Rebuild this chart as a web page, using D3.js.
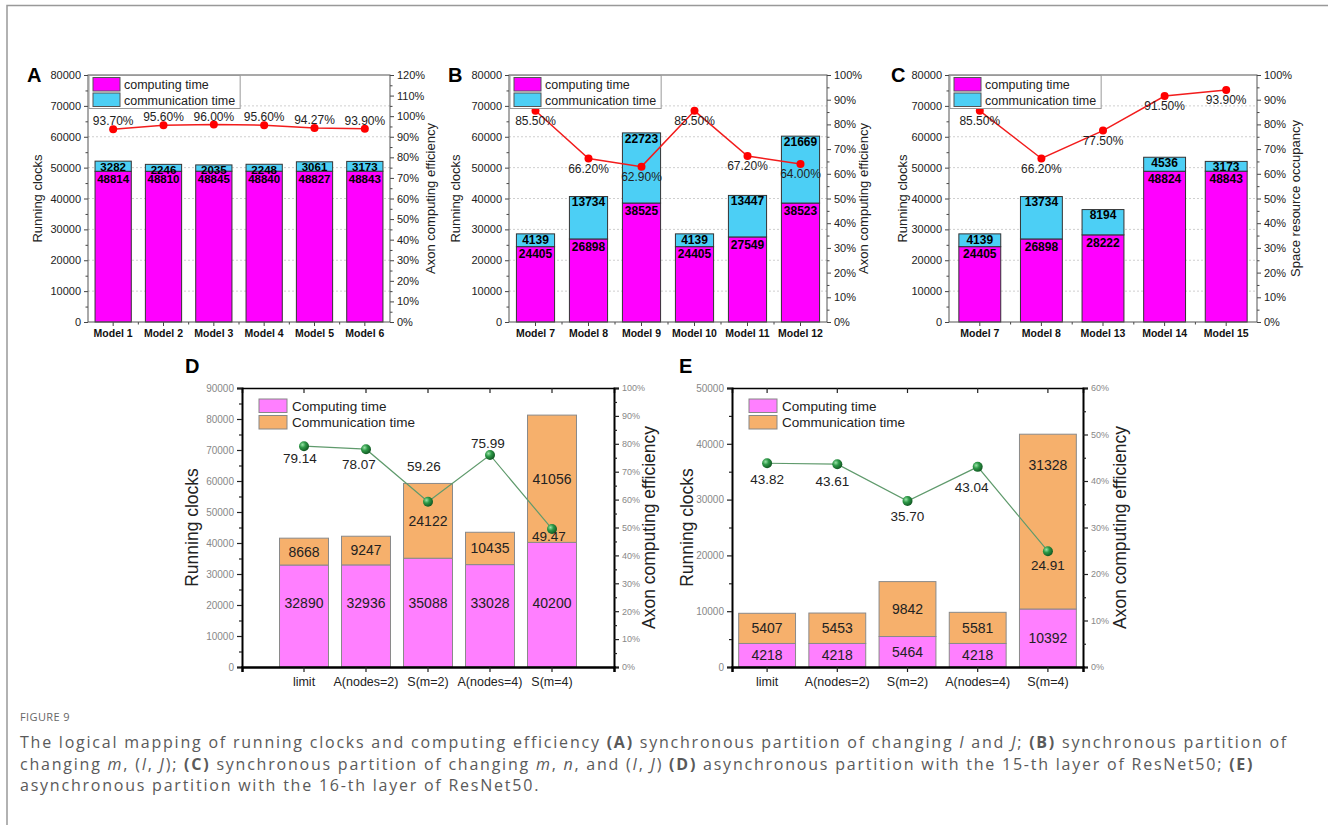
<!DOCTYPE html>
<html>
<head>
<meta charset="utf-8">
<title>Figure 9</title>
<style>
body { margin: 0; background: #fff; }
text { font-family: Arial, "Liberation Sans", sans-serif; }
.cap { font-family: "Open Sans", sans-serif; fill: #5a5a5a; }
</style>
<script src="https://d3js.org/d3.v7.min.js"></script>
</head>
<body>
<div id="chart"></div>
<script>
// ---- data ----
var catsA = ["Model 1", "Model 2", "Model 3", "Model 4", "Model 5", "Model 6"];
var compA = [48814, 48810, 48845, 48840, 48827, 48843];
var commA = [3282, 2246, 2035, 2248, 3061, 3173];
var effA = [93.70, 95.60, 96.00, 95.60, 94.27, 93.90];

var catsB = ["Model 7", "Model 8", "Model 9", "Model 10", "Model 11", "Model 12"];
var compB = [24405, 26898, 38525, 24405, 27549, 38523];
var commB = [4139, 13734, 22723, 4139, 13447, 21669];
var effB = [85.50, 66.20, 62.90, 85.50, 67.20, 64.00];

var catsC = ["Model 7", "Model 8", "Model 13", "Model 14", "Model 15"];
var compC = [24405, 26898, 28222, 48824, 48843];
var commC = [4139, 13734, 8194, 4536, 3173];
var effC = [85.50, 66.20, 77.50, 91.50, 93.90];

var catsDE = ["limit", "A(nodes=2)", "S(m=2)", "A(nodes=4)", "S(m=4)"];
var compD = [32890, 32936, 35088, 33028, 40200];
var commD = [8668, 9247, 24122, 10435, 41056];
var effD = [79.14, 78.07, 59.26, 75.99, 49.47];

var compE = [4218, 4218, 5464, 4218, 10392];
var commE = [5407, 5453, 9842, 5581, 31328];
var effE = [43.82, 43.61, 35.70, 43.04, 24.91];

var W = 1328, H = 825;
var svg = d3.select("#chart").append("svg")
  .attr("width", W).attr("height", H);

// gradient for the green spheres
var grad = svg.append("defs").append("radialGradient")
  .attr("id", "ball").attr("cx", "35%").attr("cy", "35%").attr("r", "65%");
grad.append("stop").attr("offset", "0%").attr("stop-color", "#9be3a8");
grad.append("stop").attr("offset", "45%").attr("stop-color", "#2e9a48");
grad.append("stop").attr("offset", "100%").attr("stop-color", "#145c25");

// outer frame of the figure box
svg.append("path")
  .attr("d", "M7," + H + "V5.5H" + W)
  .attr("fill", "none").attr("stroke", "#999").attr("stroke-width", 1.5);

function panel(o) {
  var soft = o.soft;
  var g = svg.append("g");
  var x = d3.scaleBand().domain(o.cats).range([o.left, o.right])
    .paddingInner(o.pin).paddingOuter(o.pout);
  var y = d3.scaleLinear().domain([0, o.yMax]).range([o.bottom, o.top]);
  var r = d3.scaleLinear().domain([0, o.rMax]).range([o.bottom, o.top]);
  var rows = o.cats.map(function(c, i) {
    return { cat: c, comp: o.comp[i], comm: o.comm[i], eff: o.eff[i] / 100, i: i };
  });
  var cx = function(d) { return x(d.cat) + x.bandwidth() / 2; };
  var majorY = d3.range(0, o.yMax + 1, 10000);
  var minorY = d3.range(5000, o.yMax, 10000);
  var majorR = d3.range(0, o.rMax + 1e-9, 0.1);
  var minorR = d3.range(0.05, o.rMax, 0.1);
  var tickCol = soft ? "#888" : "#222";

  // grid
  if (!soft) {
    g.append("g").selectAll("line")
      .data(majorY.filter(function(v) { return v > 0 && v < o.yMax; }))
      .enter().append("line")
      .attr("x1", o.left).attr("x2", o.right)
      .attr("y1", y).attr("y2", y)
      .attr("stroke", "#cfcfcf").attr("stroke-dasharray", "2,2");
  }

  // bars
  var bars = g.append("g");
  bars.selectAll(".comp").data(rows).enter().append("rect")
    .attr("x", function(d) { return x(d.cat); })
    .attr("width", x.bandwidth())
    .attr("y", function(d) { return y(d.comp); })
    .attr("height", function(d) { return y(0) - y(d.comp); })
    .attr("fill", o.c1).attr("stroke", o.sc).attr("stroke-width", 1);
  bars.selectAll(".comm").data(rows).enter().append("rect")
    .attr("x", function(d) { return x(d.cat); })
    .attr("width", x.bandwidth())
    .attr("y", function(d) { return y(d.comp + d.comm); })
    .attr("height", function(d) { return y(d.comp) - y(d.comp + d.comm); })
    .attr("fill", o.c2).attr("stroke", o.sc).attr("stroke-width", 1);

  // bar labels
  var lab = g.append("g")
    .attr("text-anchor", "middle")
    .attr("font-size", soft ? 14 : o.labFs)
    .attr("font-weight", soft ? "normal" : "bold")
    .attr("fill", soft ? "#222" : "#000");
  lab.selectAll(".lc").data(rows).enter().append("text")
    .attr("x", cx)
    .attr("y", function(d) {
      if (!soft) return y(d.comp) + 7.5;
      if (o.compAt) return y(o.compAt);
      return (y(0) + y(d.comp)) / 2;
    })
    .attr("dy", "0.35em")
    .text(function(d) { return d.comp; });
  lab.selectAll(".lm").data(rows).enter().append("text")
    .attr("x", cx)
    .attr("y", function(d) {
      var top = y(d.comp + d.comm);
      if (!soft) return top + 5.5;
      var mid = (y(d.comp) + top) / 2;
      return o.maxDrop ? Math.min(mid, top + o.maxDrop) : mid;
    })
    .attr("dy", "0.35em")
    .text(function(d) { return d.comm; });

  // axes
  var ax = g.append("g").attr("fill", tickCol);
  var yl = ax.append("g").attr("transform", "translate(" + o.left + ",0)")
    .call(d3.axisLeft(y).tickValues(majorY).tickSize(soft ? 5 : 4).tickPadding(3).tickFormat(d3.format("d")));
  yl.append("g").call(d3.axisLeft(y).tickValues(minorY).tickSize(soft ? 3 : 2.5).tickFormat(""))
    .select(".domain").remove();
  var yr = ax.append("g").attr("transform", "translate(" + o.right + ",0)")
    .call(d3.axisRight(r).tickValues(majorR).tickSize(soft ? 5 : 4).tickPadding(3).tickFormat(d3.format(".0%")));
  yr.append("g").call(d3.axisRight(r).tickValues(minorR).tickSize(soft ? 3 : 2.5).tickFormat(""))
    .select(".domain").remove();
  yl.selectAll(".tick text").attr("fill", tickCol).attr("font-size", soft ? 10 : 11);
  yr.selectAll(".tick text").attr("fill", tickCol).attr("font-size", soft ? 9 : 11);
  var xb = ax.append("g").attr("transform", "translate(0," + o.bottom + ")")
    .call(d3.axisBottom(x).tickSize(soft ? 5 : 4).tickPadding(soft ? 5 : 4));
  xb.selectAll("text")
    .attr("font-size", soft ? 12.5 : 10.5)
    .attr("font-weight", soft ? "normal" : "bold")
    .attr("fill", soft ? "#222" : "#111");
  var xt = ax.append("g").attr("transform", "translate(0," + o.top + ")")
    .call(d3.axisTop(x).tickSize(soft ? -5 : 0).tickFormat(""));

  if (!soft) {
    // minor ticks between categories
    ax.append("g").selectAll("line").data(rows.slice(1)).enter().append("line")
      .attr("x1", function(d) { return x(d.cat) - x.step() * o.pin / 2; })
      .attr("x2", function(d) { return x(d.cat) - x.step() * o.pin / 2; })
      .attr("y1", o.bottom).attr("y2", o.bottom + 2.5)
      .attr("stroke", "#444");
    ax.selectAll(".domain").remove();
    ax.selectAll(".tick line").attr("stroke", "#444");
    g.append("rect")
      .attr("x", o.left).attr("y", o.top)
      .attr("width", o.right - o.left).attr("height", o.bottom - o.top)
      .attr("fill", "none").attr("stroke", "#555").attr("stroke-width", 1);
  } else {
    ax.selectAll(".tick line").attr("stroke", "#222").attr("stroke-width", 1.2);
    yl.select(".domain").attr("stroke", "#000").attr("stroke-width", 2);
    yr.select(".domain").attr("stroke", "#000").attr("stroke-width", 2);
    xb.select(".domain").attr("stroke", "#000").attr("stroke-width", 2.5);
    xt.select(".domain").attr("stroke", "#000").attr("stroke-width", 1.5);
  }

  // efficiency line
  var line = d3.line().x(cx).y(function(d) { return r(d.eff); });
  g.append("path").datum(rows)
    .attr("d", line).attr("fill", "none")
    .attr("stroke", soft ? "#5f9a6c" : "#f21c1c")
    .attr("stroke-width", soft ? 1.2 : 1.5);
  g.append("g").selectAll("circle").data(rows).enter().append("circle")
    .attr("cx", cx).attr("cy", function(d) { return r(d.eff); })
    .attr("r", soft ? 5 : 4)
    .attr("fill", soft ? "url(#ball)" : "#ff0000");
  g.append("g")
    .attr("text-anchor", "middle")
    .attr("font-size", soft ? 13.5 : 12)
    .attr("fill", "#222")
    .selectAll("text").data(rows).enter().append("text")
    .attr("x", function(d) { return cx(d) + o.effOff[d.i][0]; })
    .attr("y", function(d) { return r(d.eff) + o.effOff[d.i][1]; })
    .attr("dy", "0.35em")
    .text(function(d) { return soft ? d3.format(".2f")(d.eff * 100) : d3.format(".2f")(d.eff * 100) + "%"; });

  // axis titles
  var ts = soft ? 17.5 : 13;
  var my = (o.top + o.bottom) / 2;
  g.append("text")
    .attr("transform", "translate(" + (o.left - o.lt) + "," + my + ") rotate(-90)")
    .attr("text-anchor", "middle").attr("dy", "0.35em")
    .attr("font-size", ts).attr("fill", "#222")
    .text("Running clocks");
  g.append("text")
    .attr("transform", "translate(" + (o.right + o.rt) + "," + my + ") rotate(-90)")
    .attr("text-anchor", "middle").attr("dy", "0.35em")
    .attr("font-size", ts).attr("fill", "#222")
    .text(o.rightTitle);

  // legend
  var names = soft ? ["Computing time", "Communication time"] : ["computing time", "communication time"];
  var lg = g.append("g");
  if (!soft) {
    var box = lg.append("rect").attr("x", o.left + 1).attr("y", o.top + 0.5)
      .attr("height", 33).attr("fill", "#fff").attr("stroke", "#999");
    var wmax = 0;
    [o.c1, o.c2].forEach(function(c, i) {
      lg.append("rect").attr("x", o.left + 5).attr("y", o.top + 2.5 + i * 15.5)
        .attr("width", 27).attr("height", 13.5)
        .attr("fill", c).attr("stroke", "#555");
      var t = lg.append("text").attr("x", o.left + 36).attr("y", o.top + 14 + i * 15.5)
        .attr("font-size", 12.5).attr("fill", "#222").text(names[i]);
      wmax = Math.max(wmax, t.node().getComputedTextLength());
    });
    box.attr("width", 36 + wmax + 4);
  } else {
    [o.c1, o.c2].forEach(function(c, i) {
      lg.append("rect").attr("x", o.left + 17).attr("y", o.top + 11 + i * 16.5)
        .attr("width", 28).attr("height", 13.5)
        .attr("fill", c).attr("stroke", "#888");
      lg.append("text").attr("x", o.left + 50).attr("y", o.top + 22.5 + i * 16.5)
        .attr("font-size", 13.5).attr("fill", "#222").text(names[i]);
    });
  }

  // panel letter
  svg.append("text").attr("x", o.lx).attr("y", o.ly)
    .attr("font-size", 20).attr("font-weight", "bold").attr("fill", "#000")
    .text(o.letter);
}

var pinkA = "#ff00ff", cyan = "#4ccff5";
var pinkD = "#ff7fff", orange = "#f6b06c";

panel({ letter: "A", lx: 27, ly: 82, left: 88, right: 390, top: 75, bottom: 322,
  cats: catsA, comp: compA, comm: commA, eff: effA, yMax: 80000, rMax: 1.2, labFs: 11.5,
  pin: 0.28, pout: 0.14, c1: pinkA, c2: cyan, sc: "#333", lt: 51, rt: 40,
  rightTitle: "Axon computing efficiency",
  effOff: catsA.map(function() { return [0, -8]; }) });

panel({ letter: "B", lx: 448, ly: 82, left: 509, right: 827, top: 75, bottom: 322,
  cats: catsB, comp: compB, comm: commB, eff: effB, yMax: 80000, rMax: 1.0, labFs: 12,
  pin: 0.28, pout: 0.14, c1: pinkA, c2: cyan, sc: "#333", lt: 54, rt: 36,
  rightTitle: "Axon computing efficiency",
  effOff: catsB.map(function() { return [0, 10]; }) });

panel({ letter: "C", lx: 891, ly: 82, left: 949, right: 1257, top: 75, bottom: 322,
  cats: catsC, comp: compC, comm: commC, eff: effC, yMax: 80000, rMax: 1.0, labFs: 12,
  pin: 0.32, pout: 0.16, c1: pinkA, c2: cyan, sc: "#333", lt: 47, rt: 38,
  rightTitle: "Space resource occupancy",
  effOff: catsC.map(function() { return [0, 10]; }) });

panel({ letter: "D", lx: 185, ly: 373, left: 242, right: 614, top: 388, bottom: 667, soft: true,
  cats: catsDE, comp: compD, comm: commD, eff: effD, yMax: 90000, rMax: 1.0,
  pin: 0.21, pout: 0.605, c1: pinkD, c2: orange, sc: "#8a8a8a", lt: 50, rt: 35,
  rightTitle: "Axon computing efficiency", compAt: 20600,
  effOff: [[-4, 12], [-7, 15], [-4, -35], [-2, -12], [-3, 7]] });

panel({ letter: "E", lx: 679, ly: 373, left: 732, right: 1083, top: 388, bottom: 667, soft: true,
  cats: catsDE, comp: compE, comm: commE, eff: effE, yMax: 50000, rMax: 0.6,
  pin: 0.19, pout: 0.095, c1: pinkD, c2: orange, sc: "#8a8a8a", lt: 45, rt: 37,
  rightTitle: "Axon computing efficiency", maxDrop: 31,
  effOff: [[0, 16], [-5, 17], [0, 15], [-6, 20], [0, 14]] });

// ---- caption ----
svg.append("text").attr("class", "cap")
  .attr("x", 20).attr("y", 721)
  .attr("font-size", 11).attr("letter-spacing", 0.4).style("fill", "#666")
  .text("FIGURE 9");

var capLines = [
  [["The logical mapping of running clocks and computing efficiency ", ""], ["(A)", "b"],
   [" synchronous partition of changing ", ""], ["I", "i"], [" and ", ""], ["J", "i"], ["; ", ""],
   ["(B)", "b"], [" synchronous partition of", ""]],
  [["changing ", ""], ["m", "i"], [", (", ""], ["I", "i"], [", ", ""], ["J", "i"], ["); ", ""],
   ["(C)", "b"], [" synchronous partition of changing ", ""], ["m", "i"], [", ", ""], ["n", "i"],
   [", and (", ""], ["I", "i"], [", ", ""], ["J", "i"], [") ", ""], ["(D)", "b"],
   [" asynchronous partition with the 15-th layer of ResNet50; ", ""], ["(E)", "b"]],
  [["asynchronous partition with the 16-th layer of ResNet50.", ""]]
];
var capBase = [748, 769.5, 791];
var capNodes = capLines.map(function(parts, li) {
  var t = svg.append("text").attr("class", "cap")
    .attr("x", 20).attr("y", capBase[li]).attr("font-size", 16);
  parts.forEach(function(p) {
    t.append("tspan").text(p[0])
      .attr("font-weight", p[1] == "b" ? "bold" : null)
      .attr("font-style", p[1] == "i" ? "italic" : null);
  });
  return t;
});
// small letter spacing so the first line spans the same width as the reference
var len0 = capNodes[0].node().getComputedTextLength();
var nch = capNodes[0].text().length;
var ls = (1268 - len0) / nch;
capNodes.forEach(function(t) { t.attr("letter-spacing", ls); });
</script>
</body>
</html>
